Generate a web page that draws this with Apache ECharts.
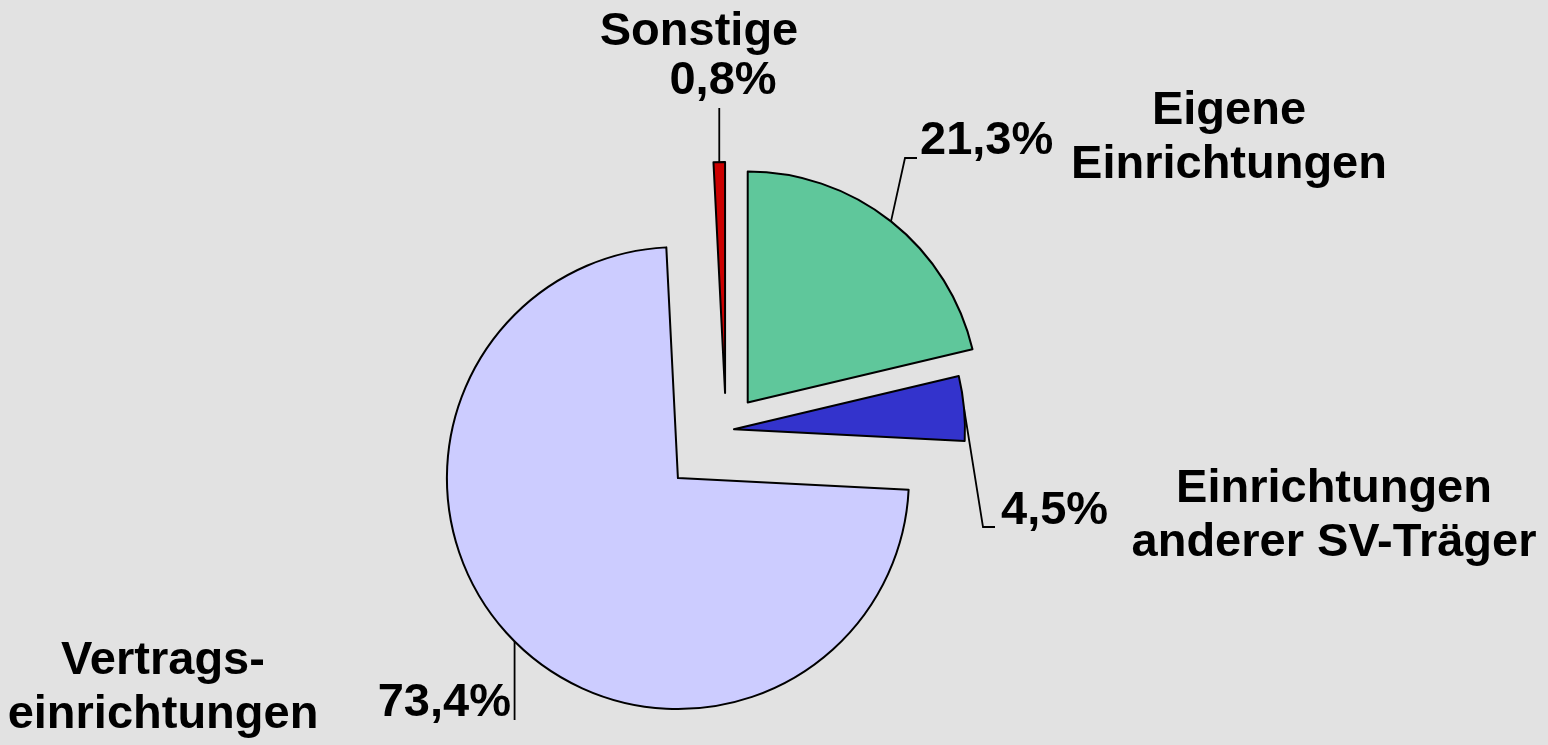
<!DOCTYPE html>
<html>
<head>
<meta charset="utf-8">
<script src="https://cdn.jsdelivr.net/npm/echarts/dist/echarts.min.js"></script>
<style>
  html, body { margin: 0; padding: 0; background: #e2e2e2; }
  #chart { width: 1548px; height: 745px; }
</style>
</head>
<body>
<div id="chart"></div>
<script>
// Daten
var categories = ['Sonstige', 'Eigene Einrichtungen', 'Einrichtungen anderer SV-Träger', 'Vertragseinrichtungen']
var shares = [0.8, 21.3, 4.5, 73.4]
var valueLabels = ['0,8%', '21,3%', '4,5%', '73,4%']
var nameLabels = ['Sonstige', 'Eigene\nEinrichtungen', 'Einrichtungen\nanderer SV-Träger', 'Vertrags-\neinrichtungen']

// Layout / Stil
var colors = ['#cc0000', '#5fc79b', '#3333cc', '#ccccff']
var pieCenter = [726, 430]
var pieRadius = 231
var explode = [37, 35, 8, 68] // Abstand der Segmente vom Mittelpunkt
var valuePos = [[723, 81, 'center'], [920, 141, 'left'], [1001, 511, 'left'], [511, 703, 'right']]
var namePos = [[699, 32], [1229, 138], [1334, 516], [163, 688]]
var textFont = 'bold 47px "Liberation Sans", Arial, sans-serif'

var total = shares.reduce(function (a, b) { return a + b }, 0)
// "Eigene Einrichtungen" beginnt bei 12 Uhr
var startAngle = 90 + shares[0] / total * 360

// Winkel (im Uhrzeigersinn ab 12 Uhr) der Segmentmitte
function midAngle (i) {
  var before = 0
  for (var k = 0; k < i; k++) before += shares[k]
  var deg = -shares[0] / total * 360 + (before + shares[i] / 2) / total * 360
  return deg * Math.PI / 180
}

function sliceCenter (i) {
  var m = midAngle(i)
  return [pieCenter[0] + explode[i] * Math.sin(m), pieCenter[1] - explode[i] * Math.cos(m)]
}

function edgePoint (i) {
  var c = sliceCenter(i)
  var m = midAngle(i)
  return [c[0] + pieRadius * Math.sin(m), c[1] - pieRadius * Math.cos(m)]
}

// Führungslinien
function leaderPoints (i) {
  var e = edgePoint(i)
  if (i === 0) return [e, [e[0], 108]]
  if (i === 1) return [e, [905, 158], [917, 158]]
  if (i === 2) return [e, [983, 527], [995, 527]]
  return [e, [e[0], 720]]
}

function buildSeries (i) {
  return {
    type: 'pie',
    radius: pieRadius,
    center: sliceCenter(i),
    startAngle: startAngle,
    clockwise: true,
    avoidLabelOverlap: false,
    silent: true,
    animation: false,
    label: {
      formatter: function (p) { return valueLabels[p.dataIndex] },
      fontSize: 47,
      fontWeight: 'bold',
      fontFamily: '"Liberation Sans", Arial, sans-serif',
      color: '#000'
    },
    labelLine: {
      length: 20,
      length2: 10,
      lineStyle: { color: '#000', width: 1.8 }
    },
    labelLayout: function (p) {
      if (p.dataIndex !== i) return {}
      return {
        x: valuePos[i][0],
        y: valuePos[i][1],
        align: valuePos[i][2],
        verticalAlign: 'middle',
        labelLinePoints: leaderPoints(i)
      }
    },
    data: categories.map(function (c, j) {
      var own = j === i
      return {
        name: c,
        value: shares[j],
        itemStyle: own
          ? { color: colors[j], borderColor: '#000', borderWidth: 2 }
          : { color: 'rgba(0,0,0,0)', borderWidth: 0 },
        label: { show: own },
        labelLine: { show: own }
      }
    })
  }
}

var chart = echarts.init(document.getElementById('chart'))
chart.setOption({
  backgroundColor: '#e2e2e2',
  series: categories.map(function (c, i) { return buildSeries(i) }),
  graphic: nameLabels.map(function (t, i) {
    return {
      type: 'text',
      x: namePos[i][0],
      y: namePos[i][1],
      silent: true,
      style: {
        text: t,
        font: textFont,
        fill: '#000',
        align: 'center',
        verticalAlign: 'middle',
        textAlign: 'center',
        textVerticalAlign: 'middle',
        lineHeight: 54
      }
    }
  })
})
</script>
</body>
</html>
